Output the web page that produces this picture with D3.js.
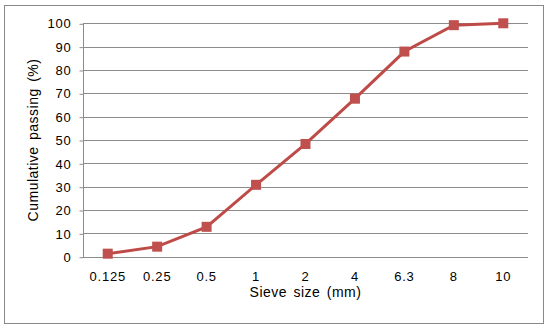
<!DOCTYPE html>
<html>
<head>
<meta charset="utf-8">
<script src="https://cdn.jsdelivr.net/npm/d3@7"></script>
<style>
  body { margin: 0; background: #fff; }
  text { font-family: "Liberation Sans", Arial, sans-serif; fill: #000; }
</style>
</head>
<body>
<script>
// sieve sizes and cumulative passing
var sieveSizes = ["0.125", "0.25", "0.5", "1", "2", "4", "6.3", "8", "10"];
var passing = [1.3, 4.3, 12.8, 30.8, 48.3, 67.7, 87.9, 99.2, 100];
var yTicks = [0, 10, 20, 30, 40, 50, 60, 70, 80, 90, 100];

var width = 550, height = 330;
var plotLeft = 83, plotRight = 528, plotTop = 23.3, plotBottom = 256.7;

var svg = d3.select("body").append("svg")
    .attr("width", width)
    .attr("height", height);

// outer frame
svg.append("rect")
    .attr("x", 4.5).attr("y", 5.5)
    .attr("width", 539).attr("height", 318)
    .attr("fill", "#fff")
    .attr("stroke", "#888")
    .attr("stroke-width", 1);

var x = d3.scaleBand().domain(sieveSizes).range([plotLeft, plotRight]);
var y = d3.scaleLinear().domain([0, 100]).range([plotBottom, plotTop]);

// gridlines
svg.append("g").selectAll("line")
    .data(yTicks)
    .enter().append("line")
    .attr("x1", plotLeft).attr("x2", plotRight)
    .attr("y1", function(d) { return Math.round(y(d)) + 0.5; })
    .attr("y2", function(d) { return Math.round(y(d)) + 0.5; })
    .attr("stroke", "#8c8c8c")
    .attr("stroke-width", 1);

// y axis
var yAxis = svg.append("g")
    .attr("transform", "translate(" + (plotLeft + 0.5) + ",0.5)")
    .call(d3.axisLeft(y).tickValues(yTicks).tickSize(4).tickPadding(8));
yAxis.selectAll("text").style("font-size", "13px").style("letter-spacing", "0.8px");
yAxis.selectAll("line, path").attr("stroke", "#8c8c8c");
yAxis.select(".domain").attr("d", "M0," + Math.round(plotTop) + "V" + Math.round(plotBottom));

// x axis labels
var xAxis = svg.append("g")
    .attr("transform", "translate(0," + (Math.round(plotBottom) + 0.5) + ")")
    .call(d3.axisBottom(x).tickSize(0).tickPadding(14));
xAxis.select(".domain").remove();
xAxis.selectAll("text").style("font-size", "13px").style("letter-spacing", "0.8px");

// series line
var line = d3.line()
    .x(function(d, i) { return x(sieveSizes[i]) + x.bandwidth() / 2; })
    .y(function(d) { return y(d); });

svg.append("path")
    .datum(passing)
    .attr("d", line)
    .attr("fill", "none")
    .attr("stroke", "#be4b48")
    .attr("stroke-width", 3);

svg.append("g").selectAll("rect")
    .data(passing)
    .enter().append("rect")
    .attr("x", function(d, i) { return x(sieveSizes[i]) + x.bandwidth() / 2 - 5; })
    .attr("y", function(d) { return y(d) - 5; })
    .attr("width", 10).attr("height", 10)
    .attr("fill", "#c0504d");

// axis titles
svg.append("text")
    .attr("x", (plotLeft + plotRight) / 2)
    .attr("y", 297)
    .attr("text-anchor", "middle")
    .style("font-size", "14px")
    .style("letter-spacing", "0.5px")
    .style("word-spacing", "2px")
    .text("Sieve size (mm)");

svg.append("text")
    .attr("transform", "translate(38,140) rotate(-90)")
    .attr("text-anchor", "middle")
    .style("font-size", "14px")
    .style("letter-spacing", "0.5px")
    .style("word-spacing", "2px")
    .text("Cumulative passing (%)");
</script>
</body>
</html>
